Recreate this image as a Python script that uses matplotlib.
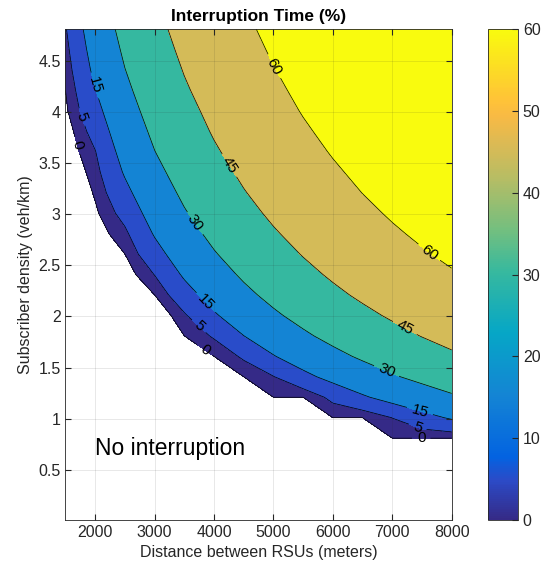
#!/usr/bin/env python3
"""Contour map of interruption time over RSU spacing and subscriber density."""

import matplotlib

matplotlib.use("Agg")
import matplotlib.pyplot as plt
import numpy as np
from matplotlib.cm import ScalarMappable
from matplotlib.colors import LinearSegmentedColormap, Normalize

plt.rcParams["font.family"] = ["Liberation Sans", "DejaVu Sans"]

DISTANCE_M = [1500, 2000, 2500, 3000, 3500, 4000, 4500,
              5000, 5500, 6000, 6500, 7000, 7500, 8000]
DENSITY_VEH_KM = [0.01, 0.21, 0.41, 0.61, 0.81, 1.01, 1.21, 1.41, 1.61,
                  1.81, 2.01, 2.21, 2.41, 2.61, 2.81, 3.01, 3.21, 3.41,
                  3.61, 3.81, 4.01, 4.21, 4.41, 4.61, 4.81]
# interruption time in per mille, one row per density, one column per distance
# (negative = no interruption, left blank)
INTERRUPTION_PERMILLE = [
    [-300, -300, -300, -300, -300, -300, -300, -280, -300, -290, -300, -200, -300, -300],
    [-290, -290, -300, -300, -300, -300, -300, -230, -300, -230, -300, -150, -230, -300],
    [-280, -270, -300, -300, -290, -300, -280, -190, -300, -170, -300, -100, -150, -290],
    [-260, -250, -300, -300, -250, -280, -230, -140, -300, -120, -250, -50, -80, -140],
    [-250, -230, -300, -300, -210, -220, -170, -90, -240, -60, -130, 0, 0, 0],
    [-230, -210, -280, -300, -160, -170, -110, -50, -120, 0, 0, 51, 111, 163],
    [-220, -190, -240, -260, -120, -110, -60, 0, 0, 70, 136, 192, 240, 284],
    [-210, -170, -210, -210, -80, -60, 0, 47, 120, 185, 240, 288, 331, 369],
    [-190, -150, -170, -150, -40, 0, 62, 144, 212, 268, 317, 360, 399, 434],
    [-180, -130, -140, -100, 0, 59, 149, 221, 281, 333, 377, 417, 453, 485],
    [-160, -110, -100, -50, 41, 137, 217, 282, 337, 385, 426, 463, 496, 527],
    [-150, -90, -70, 0, 106, 198, 272, 332, 383, 428, 467, 502, 533, 562],
    [-130, -70, -30, 52, 165, 249, 317, 374, 422, 464, 501, 534, 564, 592],
    [-120, -50, 0, 111, 213, 292, 356, 409, 455, 495, 531, 563, 592, 618],
    [-100, -30, 35, 159, 255, 329, 390, 440, 484, 523, 557, 588, 615, 641],
    [-90, -10, 78, 201, 291, 361, 419, 468, 510, 547, 580, 610, 637, 661],
    [-70, 7, 122, 237, 322, 390, 445, 492, 533, 569, 601, 629, 656, 680],
    [-60, 27, 161, 269, 350, 415, 468, 514, 553, 588, 619, 647, 673, 696],
    [-40, 47, 195, 298, 376, 438, 490, 534, 572, 606, 636, 664, 688, 711],
    [-30, 82, 225, 323, 398, 459, 509, 552, 589, 622, 652, 678, 703, 725],
    [-10, 116, 252, 346, 419, 477, 526, 568, 605, 637, 666, 692, 716, 738],
    [0, 147, 276, 368, 438, 495, 542, 583, 619, 651, 679, 704, 728, 749],
    [15, 175, 298, 387, 455, 511, 557, 597, 632, 663, 691, 716, 739, 760],
    [29, 199, 319, 405, 471, 526, 571, 610, 645, 675, 702, 727, 750, 770],
    [44, 222, 338, 421, 486, 539, 584, 622, 656, 686, 713, 737, 759, 780],
]
CONTOUR_LEVELS = [0, 5, 15, 30, 45, 60]
COLORBAR_TICKS = [0, 10, 20, 30, 40, 50, 60]
DENSITY_TICKS = [0.5, 1, 1.5, 2, 2.5, 3, 3.5, 4, 4.5]
DENSITY_TICK_LABELS = ["0.5", "1", "1.5", "2", "2.5", "3", "3.5", "4", "4.5"]

# where the inline level labels sit (distance, density)
LABEL_SPOTS = [(4993, 4.44), (7598, 2.61), (4184, 3.45), (7177, 1.85),
               (3676, 2.91), (6898, 1.46), (1940, 4.25), (3816, 2.11),
               (7458, 1.06), (1772, 3.95), (3705, 1.88), (7430, 0.92),
               (1688, 3.67), (3816, 1.65), (7487, 0.82)]

# MATLAB parula, sampled
PARULA = LinearSegmentedColormap.from_list("parula", [
    (0.000, (0.2081, 0.1663, 0.5292)),
    (0.079, (0.1707, 0.2919, 0.7792)),
    (0.127, (0.0117, 0.3875, 0.8820)),
    (0.254, (0.0793, 0.5200, 0.8312)),
    (0.381, (0.0228, 0.6535, 0.7768)),
    (0.508, (0.2178, 0.7250, 0.6193)),
    (0.587, (0.4420, 0.7481, 0.5033)),
    (0.698, (0.7184, 0.7411, 0.3905)),
    (0.762, (0.8507, 0.7299, 0.3360)),
    (0.825, (0.9739, 0.7314, 0.2666)),
    (0.857, (0.9990, 0.7653, 0.2164)),
    (1.000, (0.9763, 0.9831, 0.0538)),
])
INK = "#262626"


def main() -> None:
    interruption = np.array(INTERRUPTION_PERMILLE, dtype=float) / 10.0
    norm = Normalize(0, 60)
    band_colors = [PARULA(norm(v)) for v in CONTOUR_LEVELS]

    fig = plt.figure(figsize=(5.48, 5.70), dpi=100)
    ax = fig.add_axes([0.1195, 0.0877, 0.7047, 0.8614])
    ax.contourf(DISTANCE_M, DENSITY_VEH_KM, interruption,
                levels=CONTOUR_LEVELS + [1000], colors=band_colors)
    lines = ax.contour(DISTANCE_M, DENSITY_VEH_KM, interruption,
                       levels=CONTOUR_LEVELS, colors="k", linewidths=0.5)
    ax.clabel(lines, fontsize=11, inline=True, fmt="%d", manual=LABEL_SPOTS)

    ax.set_xlim(DISTANCE_M[0], DISTANCE_M[-1])
    ax.set_ylim(DENSITY_VEH_KM[0], DENSITY_VEH_KM[-1])
    ax.set_xticks(range(2000, 8001, 1000))
    ax.set_yticks(DENSITY_TICKS)
    ax.set_yticklabels(DENSITY_TICK_LABELS)
    ax.set_axisbelow(False)
    ax.grid(True, color=INK, alpha=0.15, linewidth=0.5)
    ax.tick_params(direction="in", top=True, right=True, length=4,
                   labelsize=11.5, colors=INK)
    for spine in ax.spines.values():
        spine.set_color(INK)
        spine.set_linewidth(0.6)
    ax.set_xlabel("Distance between RSUs (meters)", fontsize=11.5, color=INK)
    ax.set_ylabel("Subscriber density (veh/km)", fontsize=11.5, color=INK)
    ax.set_title("Interruption Time (%)", fontsize=12.5, fontweight="bold")
    ax.text(2000, 0.71, "No interruption", fontsize=16.5, va="center")

    cax = fig.add_axes([0.8905, 0.0877, 0.0547, 0.8614])
    bar = fig.colorbar(ScalarMappable(norm=norm, cmap=PARULA), cax=cax,
                       ticks=COLORBAR_TICKS)
    bar.outline.set_linewidth(0.6)
    bar.outline.set_edgecolor(INK)
    cax.tick_params(direction="in", length=4, labelsize=11.5, colors=INK)

    fig.savefig("out.png", dpi=100)
    plt.close(fig)


if __name__ == "__main__":
    main()
